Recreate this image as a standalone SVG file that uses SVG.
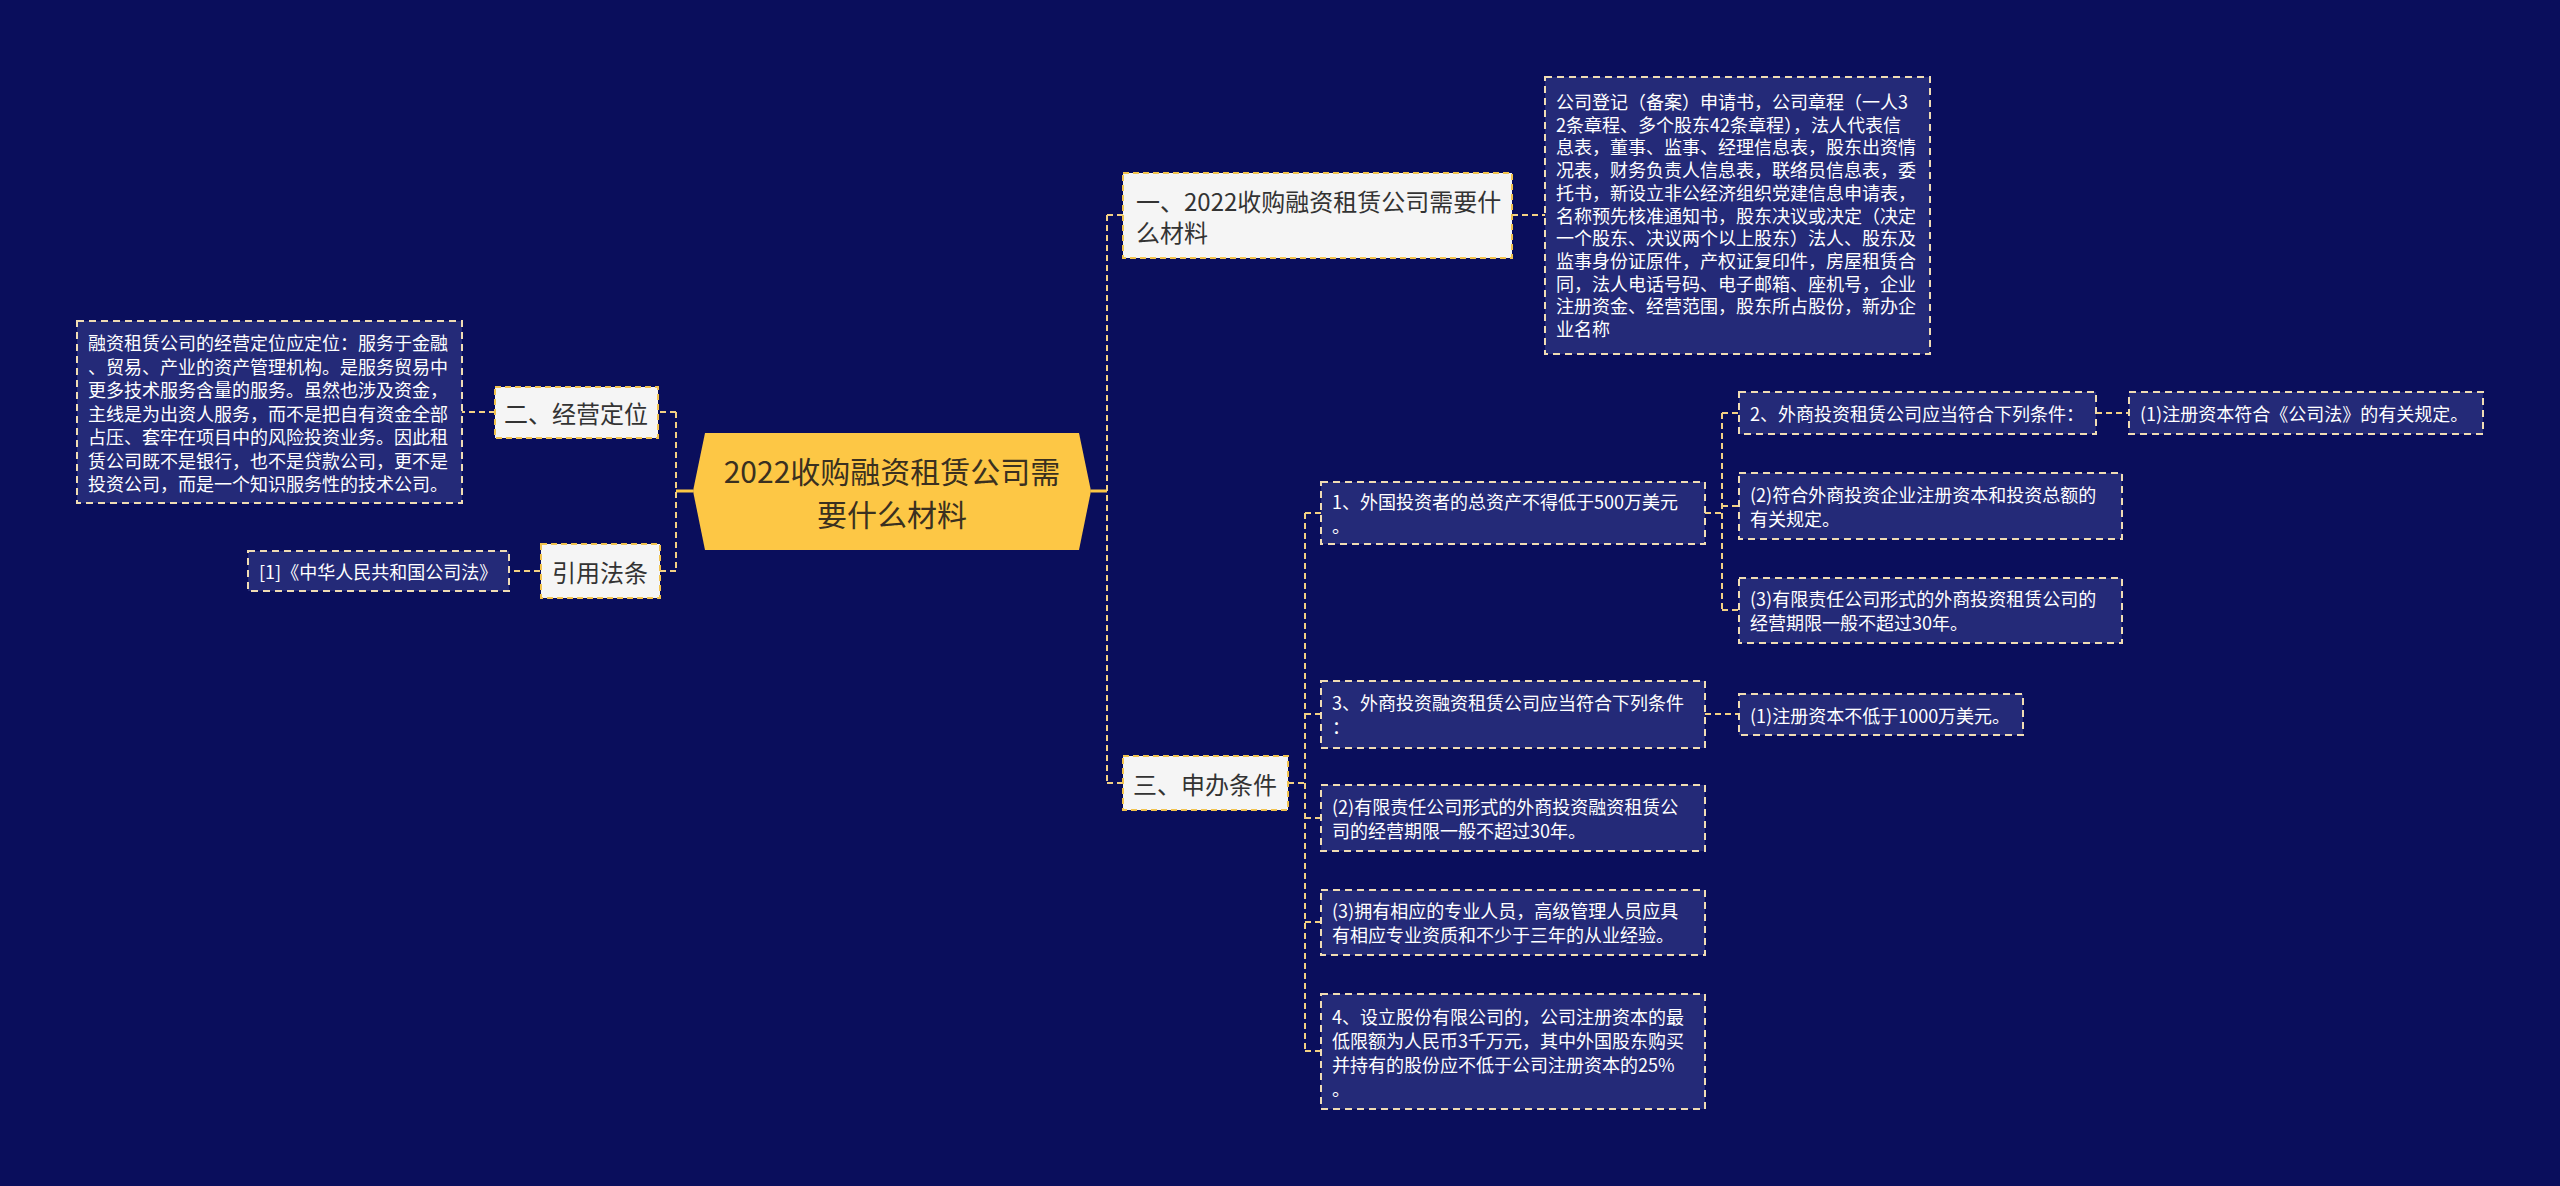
<svg xmlns="http://www.w3.org/2000/svg" width="2560" height="1186" viewBox="0 0 2560 1186">
<style>
text{font-family:"Noto Sans CJK SC","Liberation Sans",sans-serif;dominant-baseline:central}
.bg{fill:#0a0e5c}
.l1 rect{fill:#f5f5f5;stroke:#f2c34e;stroke-width:2;stroke-dasharray:6 4}
.l1 text{fill:#333333;font-size:24px}
.leaf rect{fill:#242a78;stroke:#f0dcb4;stroke-width:2;stroke-dasharray:7 5}
.leaf text{fill:#ffffff;font-size:18px}
.conn path{fill:none;stroke:#f2d084;stroke-width:2;stroke-dasharray:6 4}
.conn path.solid{stroke:#fcc745;stroke-width:3;stroke-dasharray:none}
.root polygon{fill:#fdc745}
.root text{fill:#3a3020;font-size:30px;text-anchor:middle}
</style>
<rect class="bg" x="0" y="0" width="2560" height="1186"/>
<g class="conn" id="connectors">
<path class="solid" d="M693 491H676"/>
<path d="M676 412V571"/>
<path d="M676 412H658"/>
<path d="M676 571H660"/>
<path d="M495 412H462"/>
<path d="M540 571H509"/>
<path class="solid" d="M1091 491H1107"/>
<path d="M1107 215V783"/>
<path d="M1107 215H1123"/>
<path d="M1107 783H1123"/>
<path d="M1512 215H1545"/>
<path d="M1288 783H1305"/>
<path d="M1305 513V1051"/>
<path d="M1305 513H1321M1305 714H1321M1305 818H1321M1305 922H1321M1305 1051H1321"/>
<path d="M1705 513H1722"/>
<path d="M1722 413V610"/>
<path d="M1722 413H1739M1722 506H1739M1722 610H1739"/>
<path d="M2096 413H2129"/>
<path d="M1705 714H1739"/>
</g>
<g class="root" id="root">
<polygon points="693,491 705,433 1079,433 1091,491 1079,550 705,550"/>
<text x="892" y="470">2022收购融资租赁公司需</text>
<text x="892" y="513">要什么材料</text>
</g>
<g class="l1" id="n-yi">
<rect x="1123" y="173" width="389" height="85"/>
<text x="1136" y="200">一、2022收购融资租赁公司需要什</text>
<text x="1136" y="231">么材料</text>
</g>
<g class="leaf" id="n-yi-detail">
<rect x="1545" y="77" width="385" height="277"/>
<text x="1556" y="101">公司登记（备案）申请书，公司章程（一人3</text>
<text x="1556" y="123.7">2条章程、多个股东42条章程），法人代表信</text>
<text x="1556" y="146.4">息表，董事、监事、经理信息表，股东出资情</text>
<text x="1556" y="169.1">况表，财务负责人信息表，联络员信息表，委</text>
<text x="1556" y="191.8">托书，新设立非公经济组织党建信息申请表，</text>
<text x="1556" y="214.5">名称预先核准通知书，股东决议或决定（决定</text>
<text x="1556" y="237.2">一个股东、决议两个以上股东）法人、股东及</text>
<text x="1556" y="259.9">监事身份证原件，产权证复印件，房屋租赁合</text>
<text x="1556" y="282.6">同，法人电话号码、电子邮箱、座机号，企业</text>
<text x="1556" y="305.3">注册资金、经营范围，股东所占股份，新办企</text>
<text x="1556" y="328">业名称</text>
</g>
<g class="l1" id="n-er">
<rect x="495" y="387" width="163" height="51"/>
<text x="576" y="412" text-anchor="middle">二、经营定位</text>
</g>
<g class="leaf" id="n-er-detail">
<rect x="77" y="321" width="385" height="182"/>
<text x="88" y="342">融资租赁公司的经营定位应定位：服务于金融</text>
<text x="88" y="365.5">、贸易、产业的资产管理机构。是服务贸易中</text>
<text x="88" y="389">更多技术服务含量的服务。虽然也涉及资金，</text>
<text x="88" y="412.5">主线是为出资人服务，而不是把自有资金全部</text>
<text x="88" y="436">占压、套牢在项目中的风险投资业务。因此租</text>
<text x="88" y="459.5">赁公司既不是银行，也不是贷款公司，更不是</text>
<text x="88" y="483">投资公司，而是一个知识服务性的技术公司。</text>
</g>
<g class="l1" id="n-law">
<rect x="541" y="544" width="119" height="54"/>
<text x="600" y="571" text-anchor="middle">引用法条</text>
</g>
<g class="leaf" id="n-law-1">
<rect x="248" y="551" width="261" height="40"/>
<text x="259" y="571">[1]《中华人民共和国公司法》</text>
</g>
<g class="l1" id="n-san">
<rect x="1123" y="756" width="165" height="54"/>
<text x="1205" y="783" text-anchor="middle">三、申办条件</text>
</g>
<g class="leaf" id="c1">
<rect x="1321" y="482" width="384" height="62"/>
<text x="1332" y="501">1、外国投资者的总资产不得低于500万美元</text>
<text x="1332" y="525">。</text>
</g>
<g class="leaf" id="c1-2">
<rect x="1739" y="392" width="357" height="42"/>
<text x="1750" y="413">2、外商投资租赁公司应当符合下列条件：</text>
</g>
<g class="leaf" id="c1-2-1">
<rect x="2129" y="392" width="354" height="42"/>
<text x="2140" y="413">(1)注册资本符合《公司法》的有关规定。</text>
</g>
<g class="leaf" id="c1-3">
<rect x="1739" y="473" width="383" height="66"/>
<text x="1750" y="494">(2)符合外商投资企业注册资本和投资总额的</text>
<text x="1750" y="518">有关规定。</text>
</g>
<g class="leaf" id="c1-4">
<rect x="1739" y="578" width="383" height="65"/>
<text x="1750" y="598">(3)有限责任公司形式的外商投资租赁公司的</text>
<text x="1750" y="622">经营期限一般不超过30年。</text>
</g>
<g class="leaf" id="c3">
<rect x="1321" y="681" width="384" height="67"/>
<text x="1332" y="702">3、外商投资融资租赁公司应当符合下列条件</text>
<text x="1332" y="726">：</text>
</g>
<g class="leaf" id="c3-1">
<rect x="1739" y="694" width="284" height="41"/>
<text x="1750" y="714.5">(1)注册资本不低于1000万美元。</text>
</g>
<g class="leaf" id="c4">
<rect x="1321" y="785" width="384" height="66"/>
<text x="1332" y="806">(2)有限责任公司形式的外商投资融资租赁公</text>
<text x="1332" y="830">司的经营期限一般不超过30年。</text>
</g>
<g class="leaf" id="c5">
<rect x="1321" y="890" width="384" height="65"/>
<text x="1332" y="910">(3)拥有相应的专业人员，高级管理人员应具</text>
<text x="1332" y="934">有相应专业资质和不少于三年的从业经验。</text>
</g>
<g class="leaf" id="c6">
<rect x="1321" y="994" width="384" height="115"/>
<text x="1332" y="1016">4、设立股份有限公司的，公司注册资本的最</text>
<text x="1332" y="1040">低限额为人民币3千万元，其中外国股东购买</text>
<text x="1332" y="1064">并持有的股份应不低于公司注册资本的25%</text>
<text x="1332" y="1088">。</text>
</g>
</svg>
